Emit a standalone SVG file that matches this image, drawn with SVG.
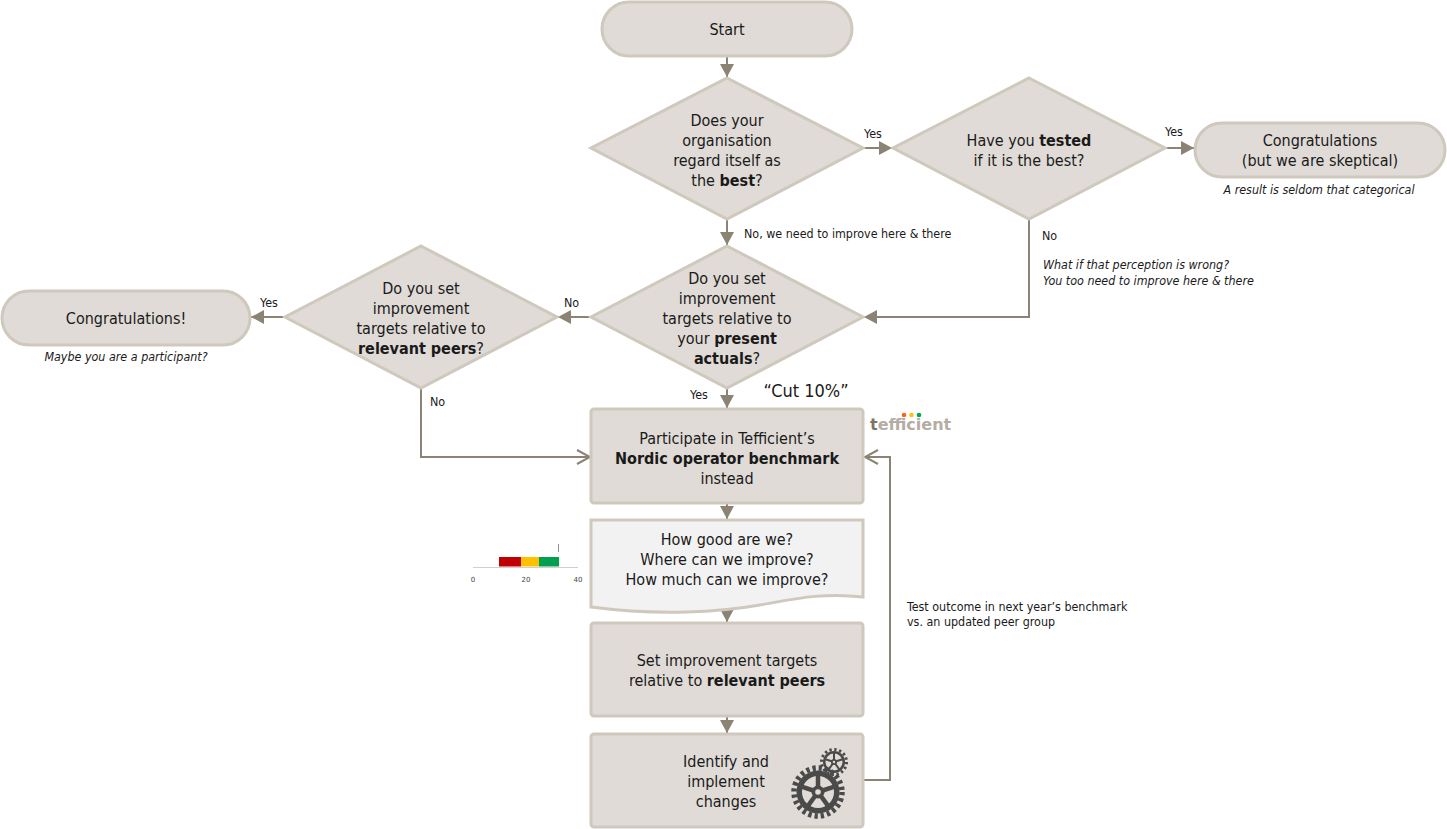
<svg xmlns="http://www.w3.org/2000/svg" width="1447" height="829" viewBox="0 0 1447 829">
<defs>
<style>
.nd{fill:#e0dbd6;stroke:#cfc8bd;stroke-width:3}
.doc{fill:#f2f2f2;stroke:#cfc8bd;stroke-width:3}
.cn{fill:none;stroke:#8b8373;stroke-width:2}
.t{font-family:"DejaVu Sans Condensed","DejaVu Sans",sans-serif;font-size:16px;fill:#1a1a1a;text-anchor:middle}
.b{font-weight:bold}
.s{font-family:"DejaVu Sans Condensed","DejaVu Sans",sans-serif;font-size:12.4px;fill:#1a1a1a}
.i{font-style:italic}
.m{text-anchor:middle}
.gr{fill:#4a4a4a}
.bg{fill:#e0dbd6}
</style>
<marker id="ah" markerUnits="userSpaceOnUse" markerWidth="14" markerHeight="14" viewBox="0 0 14 14" refX="13" refY="7" orient="auto">
<path d="M0,0 L13,7 L0,14 Z" fill="#8b8373"/>
</marker>
<marker id="oa" markerUnits="userSpaceOnUse" markerWidth="16" markerHeight="16" viewBox="0 0 16 16" refX="14" refY="8" orient="auto">
<path d="M1,1 L14,8 L1,15" fill="none" stroke="#8b8373" stroke-width="2"/>
</marker>
</defs>
<rect width="1447" height="829" fill="#ffffff"/>

<g id="connectors">
<path class="cn" d="M727,56 L727,77" marker-end="url(#ah)"/>
<path class="cn" d="M863,148 L892,148" marker-end="url(#ah)"/>
<path class="cn" d="M1165,148 L1194,148" marker-end="url(#ah)"/>
<path class="cn" d="M727,219 L727,245" marker-end="url(#ah)"/>
<path class="cn" d="M1029,219 L1029,317 L864,317" marker-end="url(#ah)"/>
<path class="cn" d="M591,317 L558,317" marker-end="url(#ah)"/>
<path class="cn" d="M285,317 L251,317" marker-end="url(#ah)"/>
<path class="cn" d="M421,388 L421,457 L590,457" marker-end="url(#oa)"/>
<path class="cn" d="M727,388 L727,408" marker-end="url(#ah)"/>
<path class="cn" d="M727,503 L727,519" marker-end="url(#ah)"/>
<path class="cn" d="M727,611 L727,622" marker-end="url(#ah)"/>
<path class="cn" d="M727,716 L727,733" marker-end="url(#ah)"/>
<path class="cn" d="M863,780 L890,780 L890,457 L865,457" marker-end="url(#oa)"/>
<text class="s" x="864" y="138">Yes</text>
<text class="s" x="1165" y="136">Yes</text>
<text class="s" x="744" y="238">No, we need to improve here &amp; there</text>
<text class="s" x="1042" y="240">No</text>
<text class="s" x="564" y="307">No</text>
<text class="s" x="260" y="307">Yes</text>
<text class="s" x="430" y="406">No</text>
<text class="s" x="690" y="399">Yes</text>
<text class="s" x="907" y="611">Test outcome in next year’s benchmark</text>
<text class="s" x="907" y="626">vs. an updated peer group</text>
</g>

<g id="start">
<rect class="nd" x="602" y="2" width="250" height="54" rx="27"/>
<text class="t" x="727" y="35">Start</text>
</g>

<g id="q-best">
<polygon class="nd" points="727,78 863,148 727,219 591,148"/>
<text class="t" x="727" y="126">Does your</text>
<text class="t" x="727" y="146">organisation</text>
<text class="t" x="727" y="166">regard itself as</text>
<text class="t" x="727" y="186">the <tspan class="b">best</tspan>?</text>
</g>

<g id="q-tested">
<polygon class="nd" points="1029,78 1165,148 1029,219 893,148"/>
<text class="t" x="1029" y="146">Have you <tspan class="b">tested</tspan></text>
<text class="t" x="1029" y="166">if it is the best?</text>
</g>

<g id="congrats-skeptical">
<rect class="nd" x="1195" y="123" width="250" height="54" rx="27"/>
<text class="t" x="1320" y="146">Congratulations</text>
<text class="t" x="1320" y="166">(but we are skeptical)</text>
<text class="s i m" x="1319" y="194">A result is seldom that categorical</text>
</g>

<g id="perception-note">
<text class="s i" x="1043" y="269">What if that perception is wrong?</text>
<text class="s i" x="1043" y="285">You too need to improve here &amp; there</text>
</g>

<g id="q-actuals">
<polygon class="nd" points="727,246 863,317 727,388 591,317"/>
<text class="t" x="727" y="284">Do you set</text>
<text class="t" x="727" y="304">improvement</text>
<text class="t" x="727" y="324">targets relative to</text>
<text class="t" x="727" y="344">your <tspan class="b">present</tspan></text>
<text class="t" x="727" y="364"><tspan class="b">actuals</tspan>?</text>
</g>

<g id="cut-note">
<text class="t" x="806" y="397" style="font-size:18px">“Cut 10%”</text>
</g>

<g id="q-peers">
<polygon class="nd" points="421,246 557,317 421,388 285,317"/>
<text class="t" x="421" y="294">Do you set</text>
<text class="t" x="421" y="314">improvement</text>
<text class="t" x="421" y="334">targets relative to</text>
<text class="t" x="421" y="354"><tspan class="b">relevant peers</tspan>?</text>
</g>

<g id="congrats">
<rect class="nd" x="2" y="291" width="248" height="54" rx="27"/>
<text class="t" x="126" y="324">Congratulations!</text>
<text class="s i m" x="126" y="361">Maybe you are a participant?</text>
</g>

<g id="participate">
<rect class="nd" x="591" y="409" width="272" height="94" rx="3"/>
<text class="t" x="727" y="444">Participate in Tefficient’s</text>
<text class="t b" x="727" y="464">Nordic operator benchmark</text>
<text class="t" x="727" y="484">instead</text>
</g>

<g id="logo">
<text x="870" y="430" style="font-family:'DejaVu Sans',sans-serif;font-size:16px;font-weight:bold;fill:#b3ada3"><tspan style="fill:#7d7462">t</tspan>efficient</text>
<circle cx="904" cy="415" r="2.3" fill="#f26522"/>
<circle cx="911.5" cy="415" r="2.3" fill="#ffc20e"/>
<circle cx="919" cy="415" r="2.3" fill="#00a651"/>
</g>

<g id="questions-doc">
<path class="doc" d="M591,520 L863,520 L863,597 C820,592 790,600 760,605 C720,612 660,616 591,607 Z"/>
<text class="t" x="727" y="545">How good are we?</text>
<text class="t" x="727" y="565">Where can we improve?</text>
<text class="t" x="727" y="585">How much can we improve?</text>
</g>

<g id="gauge">
<line x1="473" y1="567.5" x2="578" y2="567.5" stroke="#d0d0d0" stroke-width="1"/>
<rect x="499" y="557" width="22" height="9.5" fill="#c00000"/>
<rect x="521" y="557" width="18" height="9.5" fill="#ffc000"/>
<rect x="539" y="557" width="20" height="9.5" fill="#00a050"/>
<line x1="558.5" y1="544" x2="558.5" y2="552" stroke="#909090" stroke-width="1"/>
<text x="473" y="582" style="font-family:'DejaVu Sans',sans-serif;font-size:7px;fill:#444;text-anchor:middle">0</text>
<text x="526" y="582" style="font-family:'DejaVu Sans',sans-serif;font-size:7px;fill:#444;text-anchor:middle">20</text>
<text x="578" y="582" style="font-family:'DejaVu Sans',sans-serif;font-size:7px;fill:#444;text-anchor:middle">40</text>
</g>

<g id="set-targets">
<rect class="nd" x="591" y="623" width="272" height="93" rx="3"/>
<text class="t" x="727" y="666">Set improvement targets</text>
<text class="t" x="727" y="686">relative to <tspan class="b">relevant peers</tspan></text>
</g>

<g id="identify">
<rect class="nd" x="591" y="734" width="272" height="93" rx="3"/>
<text class="t" x="726" y="767">Identify and</text>
<text class="t" x="726" y="787">implement</text>
<text class="t" x="726" y="807">changes</text>
<g id="gear-small" transform="translate(834,762)">
<circle r="12.5" fill="none" stroke="#4a4a4a" stroke-width="3" stroke-dasharray="2.3 2.6"/>
<circle r="11" class="gr"/>
<circle r="8.5" class="bg"/>
<g stroke="#4a4a4a" stroke-width="2">
<line x1="0" y1="0" x2="0" y2="-9"/>
<line x1="0" y1="0" x2="8.6" y2="-2.8"/>
<line x1="0" y1="0" x2="5.3" y2="7.3"/>
<line x1="0" y1="0" x2="-5.3" y2="7.3"/>
<line x1="0" y1="0" x2="-8.6" y2="-2.8"/>
</g>
<circle r="3" class="gr"/>
<circle r="1.2" class="bg"/>
</g>
<g id="gear-big" transform="translate(818,792)">
<circle r="24" fill="none" stroke="#4a4a4a" stroke-width="5.5" stroke-dasharray="3.3 2.98"/>
<circle r="21.5" class="gr"/>
<circle r="16" class="bg"/>
<g stroke="#4a4a4a" stroke-width="4.5">
<line x1="0" y1="0" x2="0" y2="-16.5"/>
<line x1="0" y1="0" x2="15.7" y2="-5.1"/>
<line x1="0" y1="0" x2="9.7" y2="13.3"/>
<line x1="0" y1="0" x2="-9.7" y2="13.3"/>
<line x1="0" y1="0" x2="-15.7" y2="-5.1"/>
</g>
<circle r="6.5" class="gr"/>
<circle r="2.8" class="bg"/>
</g>
</g>
</svg>
